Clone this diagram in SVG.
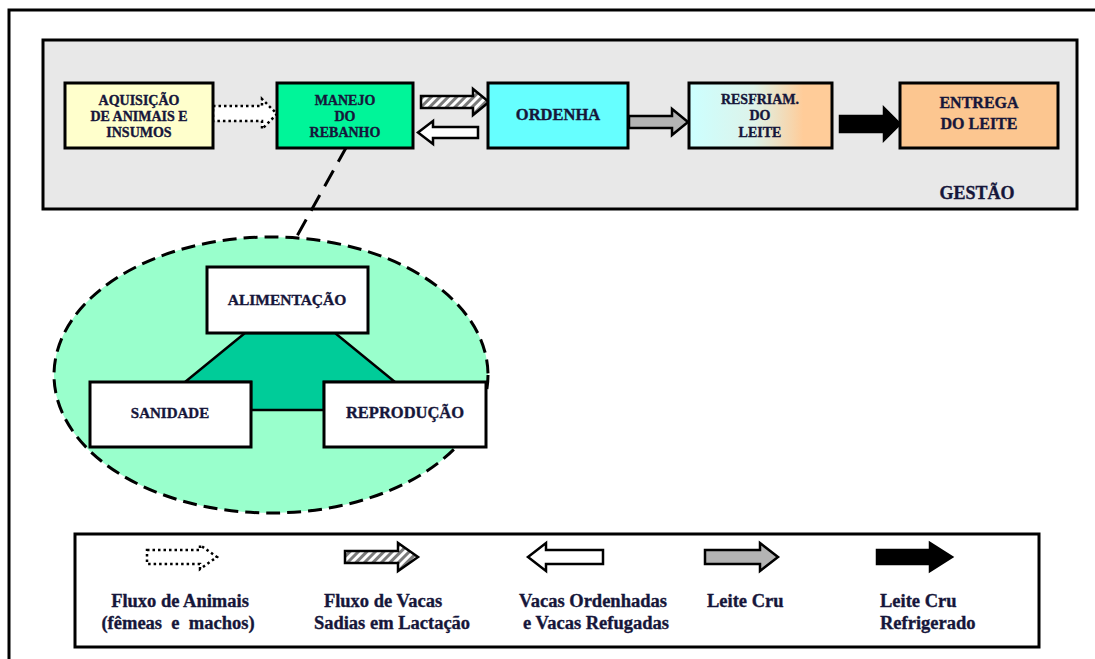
<svg xmlns="http://www.w3.org/2000/svg" width="1095" height="659" viewBox="0 0 1095 659">
<style>
.t{font-family:"Liberation Serif","Times New Roman",serif;font-weight:bold;fill:#16163a;stroke:#16163a;stroke-width:0.35;text-anchor:middle}
.box{stroke:#000;stroke-width:3}
.arr{stroke:#000;stroke-width:2.5;stroke-linejoin:miter}
.dot{fill:#fff;stroke:#000;stroke-width:2.5;stroke-dasharray:2.5 3}
.hat{fill:url(#hatch)}
.wht{fill:#fff}
.gry{fill:#b3b3b3}
.blk{fill:#000}
.lg{font-family:"Liberation Serif","Times New Roman",serif;font-weight:bold;fill:#16163a;stroke:#16163a;stroke-width:0.35;font-size:18.5px}
</style>
<defs>
<pattern id="hatch" patternUnits="userSpaceOnUse" width="6" height="6" patternTransform="rotate(45)">
<rect width="6" height="6" fill="#fff"/>
<rect width="3" height="6" fill="#7a7a7a"/>
</pattern>
<linearGradient id="resf" x1="0" y1="0" x2="1" y2="0">
<stop offset="0" stop-color="#ccffff"/>
<stop offset="0.45" stop-color="#ddf3ea"/>
<stop offset="0.8" stop-color="#ffcc99"/>
<stop offset="1" stop-color="#ffcc99"/>
</linearGradient>
</defs>
<rect width="1095" height="659" fill="#fff"/>
<path d="M9,659 V10 H1095" fill="none" stroke="#000" stroke-width="3"/>
<g id="gestao">
<rect x="43" y="40" width="1034" height="169" fill="#e8e8e8" class="box"/>
<text x="977" y="199" class="t" style="font-size:18px">GESTÃO</text>
</g>
<g id="connectors">
<path class="dot" d="M213,106 H262 V99 L277,114 L262,129 V121 H213 Z"/>
<path class="arr hat" d="M421,96 H473 V89 L489,102 L473,115 V108 H421 Z"/>
<path class="arr wht" d="M478,127 H433 V121 L418,132.5 L433,144 V138 H478 Z"/>
<path class="arr gry" d="M629,116 H672 V109 L688,122 L672,135 V128 H629 Z"/>
<path class="arr blk" d="M840,116 H884 V108 L900,124 L884,140 V132 H840 Z"/>
<path d="M347,146 L297,236" fill="none" stroke="#000" stroke-width="3" stroke-dasharray="18 10"/>
</g>
<g id="aquisicao">
<rect x="65" y="83" width="148" height="65" fill="#ffffcc" class="box"/>
<text class="t" style="font-size:14px"><tspan x="139" y="105">AQUISIÇÃO</tspan><tspan x="139" y="121">DE ANIMAIS E</tspan><tspan x="139" y="137">INSUMOS</tspan></text>
</g>
<g id="manejo">
<rect x="277" y="83" width="136" height="65" fill="#00f599" class="box"/>
<text class="t" style="font-size:14px"><tspan x="345" y="105">MANEJO</tspan><tspan x="345" y="121">DO</tspan><tspan x="345" y="137">REBANHO</tspan></text>
</g>
<g id="ordenha">
<rect x="488" y="83" width="140" height="65" fill="#66ffff" class="box"/>
<text x="558" y="120" class="t" style="font-size:16.5px">ORDENHA</text>
</g>
<g id="resfriam">
<rect x="689" y="83" width="143" height="65" fill="url(#resf)" class="box"/>
<text class="t" style="font-size:14px"><tspan x="760" y="104">RESFRIAM.</tspan><tspan x="760" y="120">DO</tspan><tspan x="760" y="137">LEITE</tspan></text>
</g>
<g id="entrega">
<rect x="900" y="83" width="158" height="65" fill="#fcc690" class="box"/>
<text class="t" style="font-size:16px"><tspan x="979" y="108">ENTREGA</tspan><tspan x="979" y="129">DO LEITE</tspan></text>
</g>
<g id="detalhe">
<ellipse cx="271" cy="375" rx="217" ry="138" fill="#99ffcc" stroke="#000" stroke-width="3" stroke-dasharray="14 7"/>
<polygon points="245,333 335,333 395,382 324,382 324,410 251,410 251,382 185,382" fill="#00cc99" stroke="#000" stroke-width="2.5"/>
</g>
<g id="alimentacao">
<rect x="207" y="267" width="161" height="66" fill="#fff" class="box"/>
<text x="287" y="305" class="t" style="font-size:15.5px">ALIMENTAÇÃO</text>
</g>
<g id="sanidade">
<rect x="90" y="382" width="161" height="65" fill="#fff" class="box"/>
<text x="170" y="418" class="t" style="font-size:15px">SANIDADE</text>
</g>
<g id="reproducao">
<rect x="324" y="382" width="162" height="65" fill="#fff" class="box"/>
<text x="405" y="418" class="t" style="font-size:16.5px">REPRODUÇÃO</text>
</g>
<g id="legenda">
<rect x="75" y="534" width="964" height="113" fill="#fff" class="box"/>
<path class="dot" d="M147,550 H200 V545 L217,557 L200,569 V564 H147 Z"/>
<path class="arr hat" d="M345,551 H398 V543 L418,557 L398,571 V563 H345 Z"/>
<path class="arr wht" d="M603,550 H546 V543 L528,557 L546,571 V564 H603 Z"/>
<path class="arr gry" d="M705,550 H760 V543 L778,557 L760,571 V564 H705 Z"/>
<path class="arr blk" d="M877,550 H930 V543 L952,557 L930,571 V564 H877 Z"/>
<text class="lg" text-anchor="middle"><tspan x="180" y="607">Fluxo de Animais</tspan><tspan x="178" y="629">(fêmeas &#160;e &#160;machos)</tspan></text>
<text class="lg" text-anchor="middle"><tspan x="383" y="607">Fluxo de Vacas</tspan><tspan x="392" y="629">Sadias em Lactação</tspan></text>
<text class="lg" text-anchor="middle"><tspan x="593" y="607">Vacas Ordenhadas</tspan><tspan x="596" y="629">e Vacas Refugadas</tspan></text>
<text class="lg" x="707" y="607">Leite Cru</text>
<text class="lg"><tspan x="880" y="607">Leite Cru</tspan><tspan x="880" y="629">Refrigerado</tspan></text>
</g>
</svg>
